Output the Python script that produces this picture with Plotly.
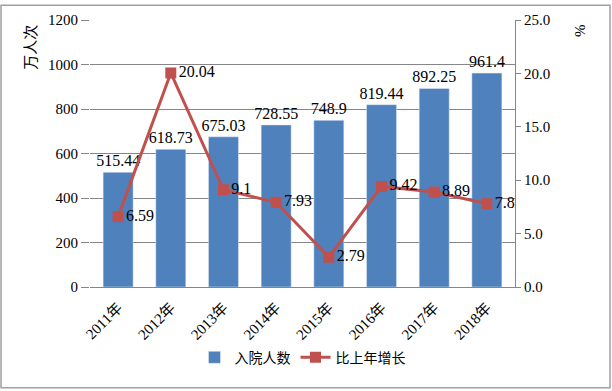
import plotly.graph_objects as go

years = ["2011年", "2012年", "2013年", "2014年", "2015年", "2016年", "2017年", "2018年"]
admissions = [515.44, 618.73, 675.03, 728.55, 748.9, 819.44, 892.25, 961.4]
growth = [6.59, 20.04, 9.1, 7.93, 2.79, 9.42, 8.89, 7.8]
admission_labels = ["515.44", "618.73", "675.03", "728.55", "748.9", "819.44", "892.25", "961.4"]
growth_labels = ["6.59", "20.04", "9.1", "7.93", "2.79", "9.42", "8.89", "7.8"]

serif = "Liberation Serif, DejaVu Serif, serif"
cjk = "Noto Sans CJK SC"

fig = go.Figure()
fig.add_trace(go.Bar(
    x=years, y=admissions, name="入院人数",
    marker=dict(color="#4F81BD"),
    text=admission_labels, textposition="outside", cliponaxis=False,
    constraintext="none",
    textfont=dict(family=serif, size=16, color="#000000"),
))
fig.add_trace(go.Scatter(
    x=years, y=growth, name="比上年增长", yaxis="y2",
    mode="lines+markers+text",
    line=dict(color="#C0504D", width=3),
    marker=dict(symbol="square", size=11, color="#C0504D"),
    text=growth_labels, textposition="middle right",
    textfont=dict(family=serif, size=16, color="#000000"),
    cliponaxis=False,
))

fig.update_layout(
    width=612, height=391,
    margin=dict(l=90, r=97, t=17, b=104),
    paper_bgcolor="white", plot_bgcolor="white",
    bargap=0.43,
    showlegend=True,
    legend=dict(orientation="h", x=0.5, xanchor="center", y=-0.265, yanchor="middle",
                font=dict(family=cjk, size=14, color="#000000"), traceorder="normal"),
    xaxis=dict(
        type="category", showgrid=False, showline=True, linecolor="#868686", linewidth=1,
        ticks="outside", ticklen=5, tickcolor="rgba(0,0,0,0)", tickangle=-45,
        tickfont=dict(family=serif + ", " + cjk, size=15, color="#000000"),
    ),
    yaxis=dict(
        range=[0, 1200], dtick=200, showgrid=True, gridcolor="#868686", gridwidth=1,
        showline=False, ticks="outside", ticklen=8, tickcolor="#868686",
        tickfont=dict(family=serif, size=15, color="#000000"), zeroline=False,
    ),
    yaxis2=dict(
        range=[0, 25], dtick=5, tickformat=".1f", overlaying="y", side="right",
        showgrid=False, showline=True, linecolor="#868686", linewidth=1,
        ticks="outside", ticklen=5, tickcolor="#868686",
        tickfont=dict(family=serif, size=15, color="#000000"), zeroline=False,
    ),
    annotations=[
        dict(text="万人次", xref="paper", yref="paper", x=-0.141, y=0.896,
             xanchor="center", yanchor="middle",
             textangle=-90, showarrow=False, font=dict(family=cjk, size=15, color="#000000")),
        dict(text="%", xref="paper", yref="paper", x=1.153, y=0.959,
             xanchor="center", yanchor="middle",
             textangle=-90, showarrow=False, font=dict(family=serif, size=15, color="#000000")),
    ],
    shapes=[
        dict(type="rect", xref="paper", yref="paper",
             x0=-89/425, x1=1 + 95/425, y0=-102/270, y1=1 + 15/270,
             line=dict(color="#A0A0A0", width=1.5), fillcolor="rgba(0,0,0,0)", layer="below"),
    ],
)

fig.write_html("out.html", config={"displayModeBar": False},
               post_script="document.body.style.margin='0';document.body.style.padding='0';")
